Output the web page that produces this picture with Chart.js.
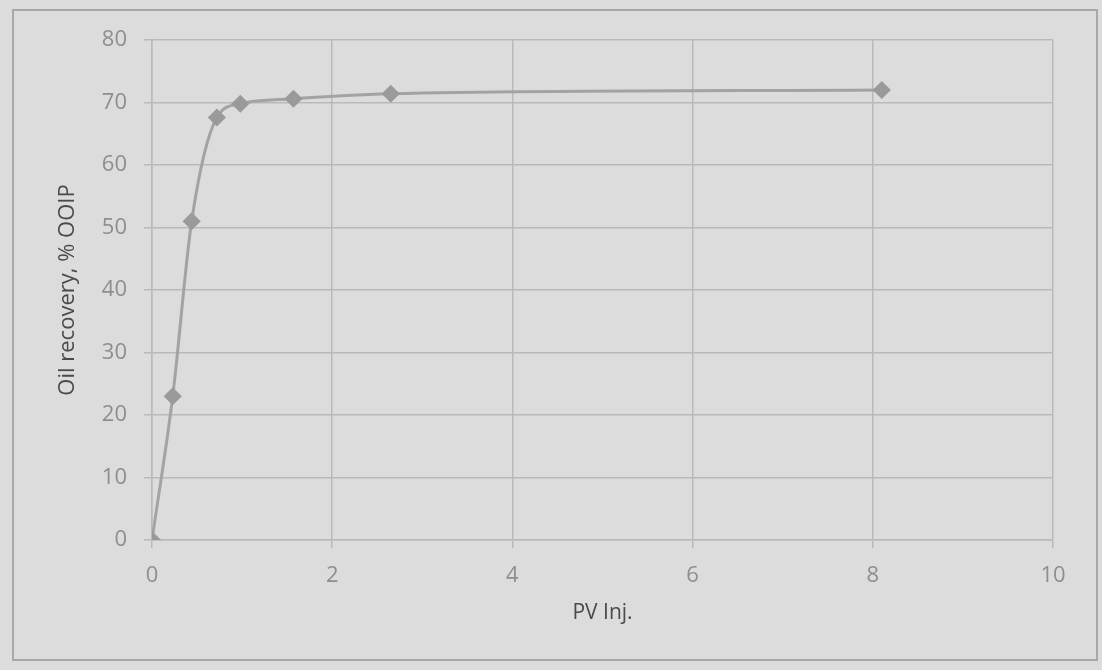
<!DOCTYPE html>
<html lang="en">
<head>
    <meta charset="UTF-8">
    <title>Oil recovery</title>
    <script src="https://cdn.jsdelivr.net/npm/chart.js"></script>
    <style>
        body { margin: 0; background: #dcdcdc; }
        #box { width: 1102px; height: 670px; }
    </style>
</head>
<body>
    <div id="box"><canvas id="grafico" width="1102" height="670"></canvas></div>

<script>
    // valores
    const pvInj = [0, 0.23, 0.44, 0.72, 0.98, 1.57, 2.65, 8.1];
    const recuperacao = [0, 23, 51, 67.6, 69.8, 70.6, 71.4, 72.0];
    const xTicks = [0, 2, 4, 6, 8, 10];
    const yTicks = [0, 10, 20, 30, 40, 50, 60, 70, 80];

    const pontos = pvInj.map(function (x, i) { return { x: x, y: recuperacao[i] }; });

    // fundo e moldura externa
    const moldura = {
        id: 'moldura',
        beforeDraw(chart) {
            const ctx = chart.ctx;
            ctx.save();
            ctx.fillStyle = '#dcdcdc';
            ctx.fillRect(0, 0, chart.width, chart.height);
            ctx.strokeStyle = '#a8a8a8';
            ctx.lineWidth = 2;
            ctx.strokeRect(13, 10, 1084, 650);
            ctx.restore();
        }
    };

    new Chart(document.getElementById('grafico'), {
        type: 'scatter',
        data: {
            datasets: [{
                data: pontos,
                showLine: true,
                borderColor: '#a3a3a3',
                borderWidth: 3,
                cubicInterpolationMode: 'monotone',
                pointStyle: 'rectRot',
                pointRadius: 7,
                pointBackgroundColor: '#9a9a9a',
                pointBorderColor: '#9a9a9a'
            }]
        },
        plugins: [moldura],
        options: {
            responsive: false,
            animation: false,
            layout: { padding: { left: 0, right: 49, top: 40, bottom: 42 } },
            plugins: { legend: { display: false }, tooltip: { enabled: false } },
            scales: {
                x: {
                    type: 'linear',
                    min: 0, max: 10,
                    afterBuildTicks(scale) { scale.ticks = xTicks.map(v => ({ value: v })); },
                    afterFit(scale) { scale.height = 88; },
                    grid: { color: '#b9b9b9', lineWidth: 1.5, tickLength: 8 },
                    border: { color: '#b9b9b9', width: 1.5 },
                    ticks: { color: '#8e8e8e', padding: 15, font: { family: 'Open Sans', size: 22 } },
                    title: {
                        display: true, text: 'PV Inj.', color: '#4a4a4a',
                        font: { family: 'Open Sans', size: 21 }, padding: { top: 0, bottom: 2 }
                    }
                },
                y: {
                    min: 0, max: 80,
                    afterBuildTicks(scale) { scale.ticks = yTicks.map(v => ({ value: v })); },
                    afterFit(scale) { scale.width = 152; },
                    grid: { color: '#b9b9b9', lineWidth: 1.5, tickLength: 8 },
                    border: { color: '#b9b9b9', width: 1.5 },
                    ticks: { color: '#8e8e8e', padding: 17, font: { family: 'Open Sans', size: 22 } },
                    title: {
                        display: true, text: 'Oil recovery, % OOIP', color: '#4a4a4a',
                        font: { family: 'Open Sans', size: 22 }, padding: { top: 55, bottom: 0 }
                    }
                }
            }
        }
    });
</script>
</body>
</html>
